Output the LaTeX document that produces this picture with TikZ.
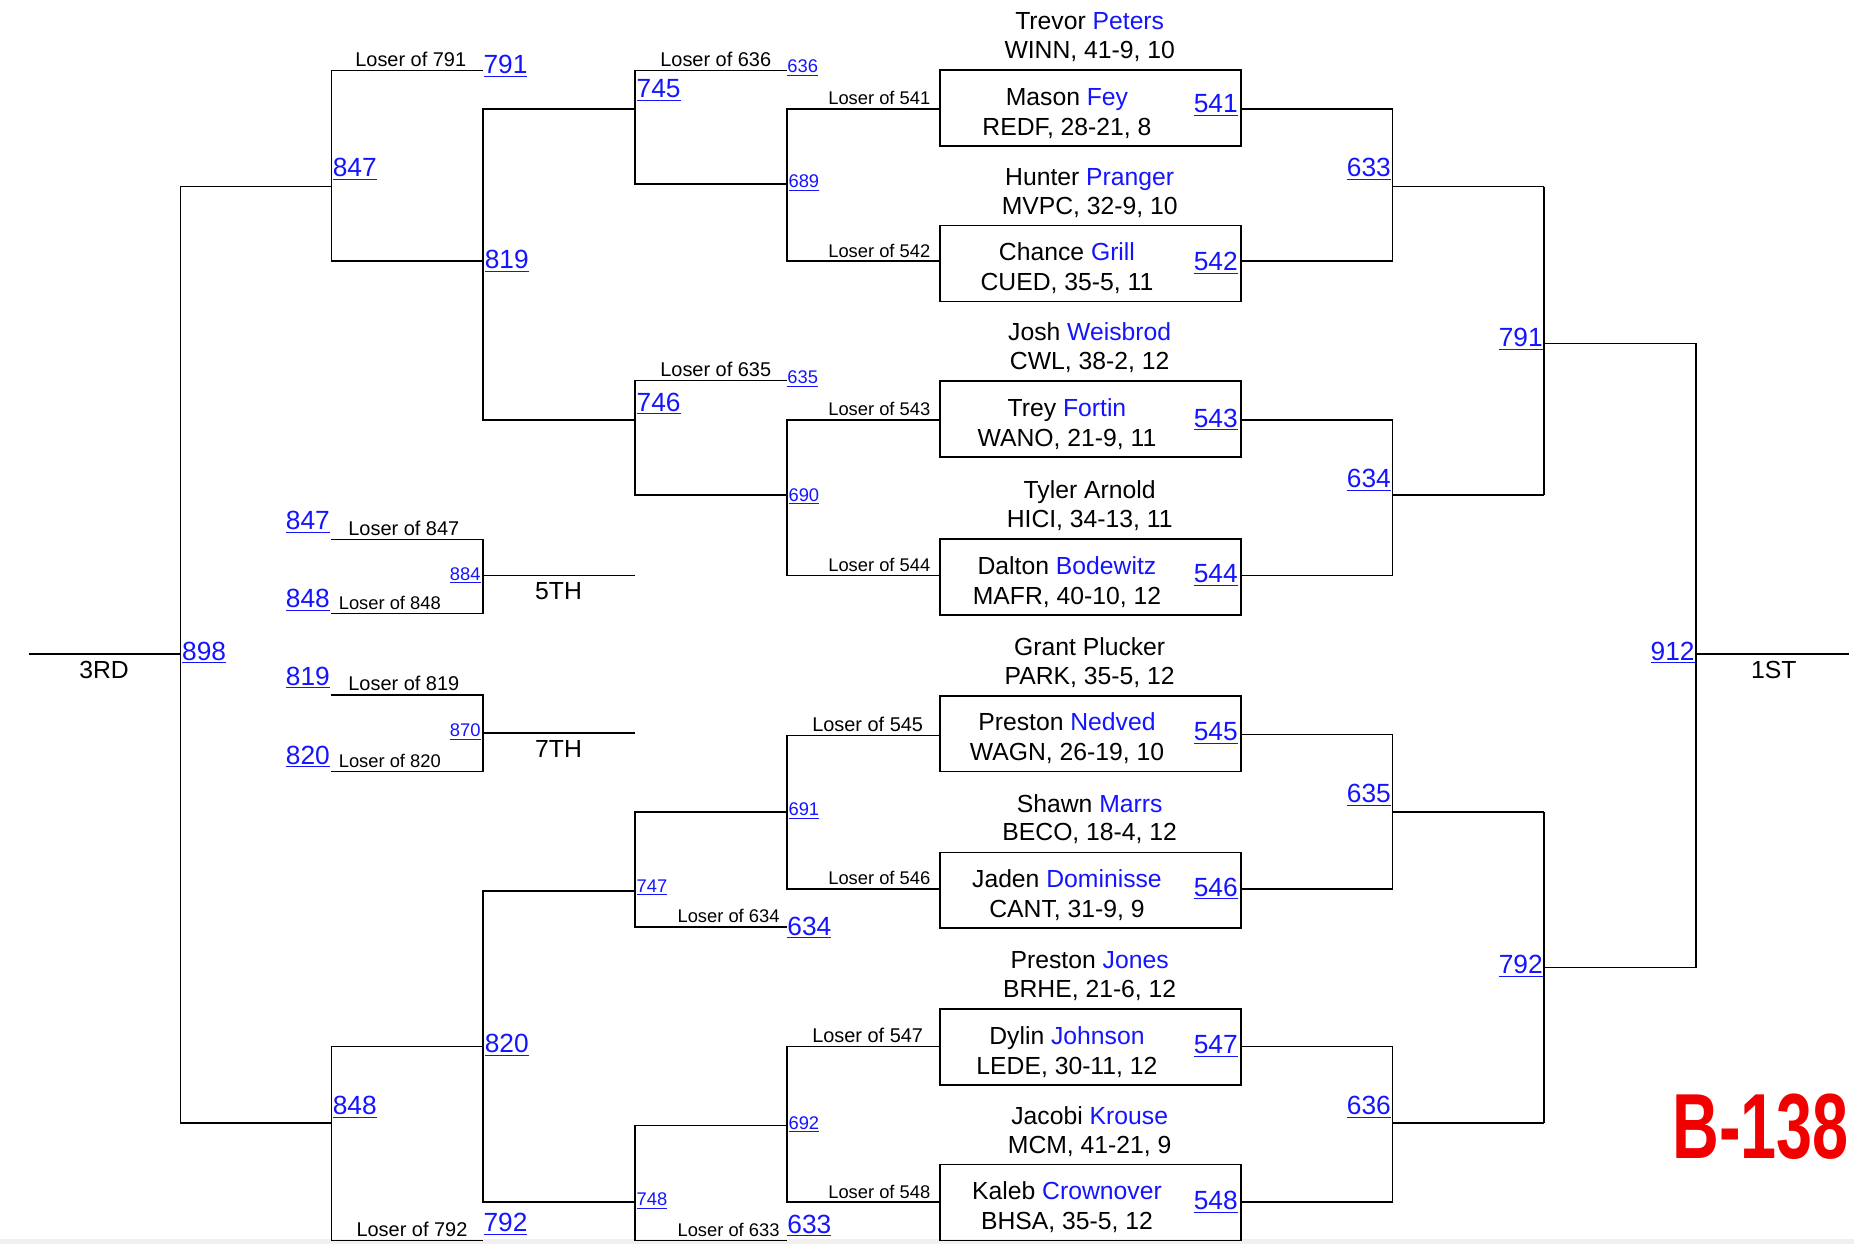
\documentclass[tikz,border=0pt]{standalone}
\usepackage{fontspec}
\setmainfont{Liberation Sans}
\definecolor{lnk}{RGB}{20,20,255}
\newcommand\lk[1]{\textcolor{lnk}{\underline{#1}}}
\newcommand\bl[1]{\textcolor{lnk}{#1}}
\tikzset{
  br/.style={line width=1pt},
  main/.style={font=\fontsize{15.5}{17}\selectfont, inner sep=0pt},
  big/.style={font=\fontsize{16.5}{18}\selectfont, inner sep=0pt},
  los/.style={font=\fontsize{12.5}{14}\selectfont, inner sep=0pt},
  sml/.style={font=\fontsize{11.5}{13}\selectfont, inner sep=0pt},
  pbox/.style={draw, line width=1pt, minimum width=189pt, minimum height=47.5pt, inner sep=0pt},
}
\begin{document}
\begin{tikzpicture}[x=0.75pt,y=-0.75pt]
\useasboundingbox (0,0) rectangle (1550,1040);
\fill[gray!12] (0,1036) rectangle (1550,1040);
% ---------- left tree
\draw[br] (24,547) -- (151,547);
\node[main] at (87,560) {3RD};
\draw[br] (277,156) -- (151,156) -- (151,939) -- (277,939);
\node[big,anchor=south west] at (152,555) {\lk{898}};
% 847
\draw[br] (404,59) -- (277,59) -- (277,218) -- (404,218);
\node[big,anchor=south west] at (278,151) {\lk{847}};
\node[los,anchor=south east] at (390,56) {Loser of 791};
\node[big,anchor=south west] at (404,65) {\lk{791}};
% 819
\draw[br] (531,91) -- (404,91) -- (404,351) -- (531,351);
\node[big,anchor=south west] at (405,228) {\lk{819}};
% 745
\draw[br] (658,59) -- (531,59) -- (531,154) -- (658,154);
\node[big,anchor=south west] at (532,85) {\lk{745}};
\node[los,anchor=south east] at (645,56) {Loser of 636};
\node[sml,anchor=south west] at (658,64) {\lk{636}};
% 689
\draw[br] (785,91) -- (658,91) -- (658,218) -- (785,218);
\node[sml,anchor=south west] at (659,160) {\lk{689}};
\node[sml,anchor=south east] at (778,88) {Loser of 541};
\node[sml,anchor=south east] at (778,216) {Loser of 542};
% 746
\draw[br] (658,318) -- (531,318) -- (531,414) -- (658,414);
\node[big,anchor=south west] at (532,347) {\lk{746}};
\node[los,anchor=south east] at (645,315) {Loser of 635};
\node[sml,anchor=south west] at (658,324) {\lk{635}};
% 690
\draw[br] (785,351) -- (658,351) -- (658,481) -- (785,481);
\node[sml,anchor=south west] at (659,422) {\lk{690}};
\node[sml,anchor=south east] at (778,348) {Loser of 543};
\node[sml,anchor=south east] at (778,478) {Loser of 544};
% 884
\draw[br] (277,451) -- (404,451) -- (404,513) -- (277,513);
\draw[br] (404,481) -- (531,481);
\node[big,anchor=south east] at (276,446) {\lk{847}};
\node[los,anchor=south west] at (291,448) {Loser of 847};
\node[big,anchor=south east] at (276,511) {\lk{848}};
\node[sml,anchor=south west] at (283,510) {Loser of 848};
\node[sml,anchor=south east] at (402,488) {\lk{884}};
\node[main] at (467,494) {5TH};
% 870
\draw[br] (277,581) -- (404,581) -- (404,645) -- (277,645);
\draw[br] (404,613) -- (531,613);
\node[big,anchor=south east] at (276,576) {\lk{819}};
\node[los,anchor=south west] at (291,578) {Loser of 819};
\node[big,anchor=south east] at (276,642) {\lk{820}};
\node[sml,anchor=south west] at (283,642) {Loser of 820};
\node[sml,anchor=south east] at (402,619) {\lk{870}};
\node[main] at (467,626) {7TH};
% 848
\draw[br] (404,875) -- (277,875) -- (277,1037) -- (404,1037);
\node[big,anchor=south west] at (278,935) {\lk{848}};
\node[los,anchor=south east] at (391,1034) {Loser of 792};
\node[big,anchor=south west] at (404,1033) {\lk{792}};
% 820
\draw[br] (531,745) -- (404,745) -- (404,1005) -- (531,1005);
\node[big,anchor=south west] at (405,883) {\lk{820}};
% 747
\draw[br] (658,679) -- (531,679) -- (531,775) -- (658,775);
\node[sml,anchor=south west] at (532,749) {\lk{747}};
\node[sml,anchor=south east] at (652,772) {Loser of 634};
\node[big,anchor=south west] at (658,785) {\lk{634}};
% 691
\draw[br] (785,615) -- (658,615) -- (658,743) -- (785,743);
\node[sml,anchor=south west] at (659,685) {\lk{691}};
\node[los,anchor=south east] at (772,612) {Loser of 545};
\node[sml,anchor=south east] at (778,740) {Loser of 546};
% 748
\draw[br] (658,941) -- (531,941) -- (531,1037) -- (658,1037);
\node[sml,anchor=south west] at (532,1011) {\lk{748}};
\node[sml,anchor=south east] at (652,1034) {Loser of 633};
\node[big,anchor=south west] at (658,1034) {\lk{633}};
% 692
\draw[br] (785,875) -- (658,875) -- (658,1005) -- (785,1005);
\node[sml,anchor=south west] at (659,947) {\lk{692}};
\node[los,anchor=south east] at (772,872) {Loser of 547};
\node[sml,anchor=south east] at (778,1002) {Loser of 548};
% ---------- boxes
\foreach \n/\y/\a/\b/\c/\d in {
 b541/58/Trevor \bl{Peters}/{WINN, 41-9, 10}/Mason \bl{Fey}/{REDF, 28-21, 8},
 b542/188/Hunter \bl{Pranger}/{MVPC, 32-9, 10}/Chance \bl{Grill}/{CUED, 35-5, 11},
 b543/318/Josh \bl{Weisbrod}/{CWL, 38-2, 12}/Trey \bl{Fortin}/{WANO, 21-9, 11},
 b544/450/Tyler Arnold/{HICI, 34-13, 11}/Dalton \bl{Bodewitz}/{MAFR, 40-10, 12},
 b545/581/Grant Plucker/{PARK, 35-5, 12}/Preston \bl{Nedved}/{WAGN, 26-19, 10},
 b546/712/Shawn \bl{Marrs}/{BECO, 18-4, 12}/Jaden \bl{Dominisse}/{CANT, 31-9, 9},
 b547/843/Preston \bl{Jones}/{BRHE, 21-6, 12}/Dylin \bl{Johnson}/{LEDE, 30-11, 12},
 b548/973/Jacobi \bl{Krouse}/{MCM, 41-21, 9}/Kaleb \bl{Crownover}/{BHSA, 35-5, 12}}{
  \node[pbox,anchor=north west] (\n) at (785,\y) {};
  \node[main,anchor=base] at (911,\y-33) {\a};
  \node[main,anchor=base] at (911,\y-9) {\b};
  \node[main,anchor=base] at (892,\y+30) {\c};
  \node[main,anchor=base] at (892,\y+55) {\d};
}
\foreach \n/\y in {541/88,542/220,543/351,544/481,545/613,546/743,547/875,548/1005}{
  \node[big,anchor=east] at (1035,\y) {\lk{\n}};
}
% ---------- right tree
\draw[br] (1037,91) -- (1164,91) -- (1164,218) -- (1037,218);
\draw[br] (1164,156) -- (1291,156);
\node[big,anchor=south east] at (1163,151) {\lk{633}};
\draw[br] (1037,351) -- (1164,351) -- (1164,481) -- (1037,481);
\draw[br] (1164,414) -- (1291,414);
\node[big,anchor=south east] at (1163,411) {\lk{634}};
\draw[br] (1037,614) -- (1164,614) -- (1164,743) -- (1037,743);
\draw[br] (1164,679) -- (1291,679);
\node[big,anchor=south east] at (1163,674) {\lk{635}};
\draw[br] (1037,875) -- (1164,875) -- (1164,1005) -- (1037,1005);
\draw[br] (1164,939) -- (1291,939);
\node[big,anchor=south east] at (1163,935) {\lk{636}};
\draw[br] (1291,156) -- (1291,414);
\draw[br] (1291,287) -- (1418,287);
\node[big,anchor=south east] at (1290,293) {\lk{791}};
\draw[br] (1291,679) -- (1291,939);
\draw[br] (1291,809) -- (1418,809);
\node[big,anchor=south east] at (1290,817) {\lk{792}};
\draw[br] (1418,287) -- (1418,809);
\draw[br] (1418,547) -- (1546,547);
\node[big,anchor=south east] at (1417,555) {\lk{912}};
\node[main] at (1483,560) {1ST};
\node[inner sep=0pt,anchor=south east,text=red!95!black,font=\fontsize{58}{60}\selectfont\bfseries] at (1546,970) {\scalebox{0.7}[1]{B-138}};
\end{tikzpicture}
\end{document}
